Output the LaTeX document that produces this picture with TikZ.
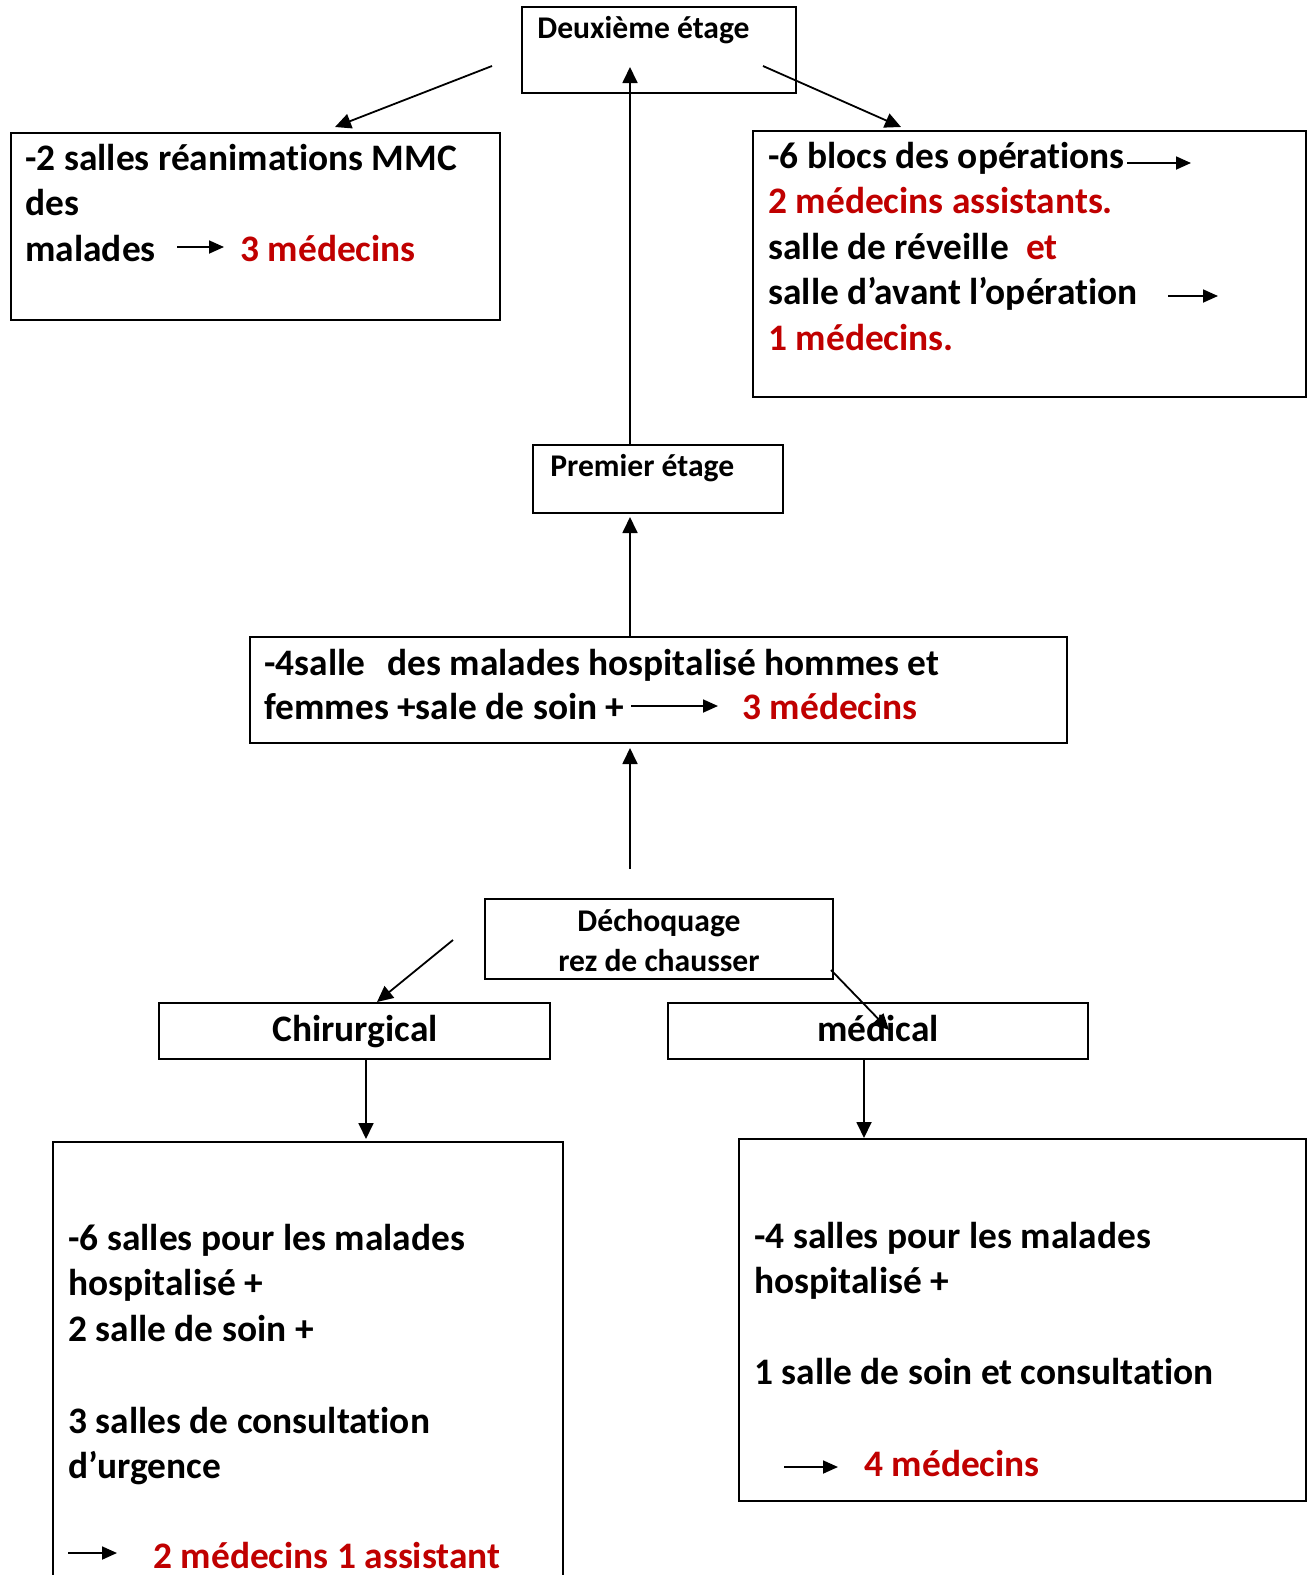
\documentclass[tikz,border=0pt]{standalone}
\usepackage{fontspec}
\setmainfont{Carlito}[RawFeature={-liga}]
\usetikzlibrary{arrows.meta,fit}
\definecolor{dred}{HTML}{C00000}
\newcommand\bigf{\fontsize{18.7}{22.6}\selectfont\bfseries}
\newcommand\smallf{\fontsize{15.8}{19}\selectfont\bfseries}
\begin{document}
\begin{tikzpicture}[x=0.5pt,y=-0.5pt,
  box/.style={draw,line width=1pt,inner sep=0pt,rectangle},
  arr/.style={line width=0.9pt,-{Triangle[length=8pt,width=7.5pt]}},
  iarr/.style={line width=0.9pt,-{Triangle[length=7.5pt,width=6.5pt]}},
  tb/.style={anchor=base west,inner sep=0pt,font=\bigf},
  ts/.style={anchor=base west,inner sep=0pt,font=\smallf},
  red/.style={text=dred}]
\useasboundingbox (0,0) rectangle (1316,1575);
\clip (0,0) rectangle (1316,1575);
\fill[white] (0,0) rectangle (1316,1575);

% boxes
\node (deux) [box, fit={(522,7) (796,93)}] {};
\node (reanim) [box, fit={(11,133) (500,320)}] {};
\node (blocs) [box, fit={(753,131) (1306,397)}] {};
\node (premier) [box, fit={(533,445) (783,513)}] {};
\node (salle4) [box, fit={(250,637) (1067,743)}] {};
\node (dech) [box, fit={(485,899) (833,979)}] {};
\node (chir) [box, fit={(159,1003) (550,1059)}] {};
\node (med) [box, fit={(668,1003) (1088,1059)}] {};
\node (chirc) [box, fit={(53,1142) (563,1620)}] {};
\node (medc) [box, fit={(739,1139) (1306,1501)}] {};

% connectors
\coordinate (d1s) at (492,66);  \coordinate (d1e) at (335,127);
\coordinate (d2s) at (763,66);  \coordinate (d2e) at (901,127);
\draw[arr] (d1s) -- (d1e);
\draw[arr] (d2s) -- (d2e);
\coordinate (v1) at (630,67);
\draw[arr] (premier.north -| v1) -- (v1);
\coordinate (v2) at (630,517);
\draw[arr] (salle4.north -| v2) -- (v2);
\coordinate (v3s) at (630,869); \coordinate (v3) at (630,748);
\draw[arr] (v3s) -- (v3);
\coordinate (c1s) at (453,940); \coordinate (c1e) at (377,1002);
\draw[arr] (c1s) -- (c1e);
\coordinate (c2s) at (831,970); \coordinate (c2e) at (889,1030);
\draw[arr] (c2s) -- (c2e);
\coordinate (h1) at (366,1139);
\draw[arr] (chir.south -| h1) -- (h1);
\coordinate (h2) at (864,1138);
\draw[arr] (med.south -| h2) -- (h2);

% texts
\node[ts] (tdeux) at (537,38) {Deuxième étage};

\node[tb] (r1) at (25,170) {-2 salles réanimations MMC};
\node[tb] (r2) at (25,215) {des};
\node[tb] (r3) at (25,261) {malades};
\draw[iarr] (177,247) -- (224,247);
\node[tb,red] (r4) at (240,261) {3 médecins};

\node[tb] (b1) at (768,168) {-6 blocs des opérations};
\draw[iarr] (1127,163) -- (1191,163);
\node[tb,red] (b2) at (768,213) {2 médecins assistants.};
\node[tb] (b3) at (768,259) {salle de réveille};
\node[tb,red] (b3b) at (1026,259) {et};
\node[tb] (b4) at (768,304) {salle d’avant l’opération};
\draw[iarr] (1168,296) -- (1218,296);
\node[tb,red] (b5) at (768,350) {1 médecins.};

\node[ts] (tprem) at (550,476) {Premier étage};

\node[tb] (s1) at (264,675) {-4salle};
\node[tb] (s1b) at (387,675) {des malades hospitalisé hommes et};
\node[tb] (s2) at (264,719) {femmes +sale de soin +};
\draw[iarr] (631,706) -- (718,706);
\node[tb,red] (s3) at (742,719) {3 médecins};

\node[ts,anchor=base] (dc1) at (659,931) {Déchoquage};
\node[ts,anchor=base] (dc2) at (659,971) {rez de chausser};

\node[tb,anchor=base] (tchir) at (355,1041) {Chirurgical};
\node[tb,anchor=base] (tmed) at (878,1041) {médical};

\node[tb] (k1) at (68,1250) {-6 salles pour les malades};
\node[tb] (k2) at (68,1295) {hospitalisé +};
\node[tb] (k3) at (68,1341) {2 salle de soin +};
\node[tb] (k4) at (68,1433) {3 salles de consultation};
\node[tb] (k5) at (68,1478) {d’urgence};
\draw[iarr] (68,1553) -- (117,1553);
\node[tb,red] (k6) at (153,1568) {2 médecins 1 assistant};

\node[tb] (m1) at (754,1248) {-4 salles pour les malades};
\node[tb] (m2) at (754,1293) {hospitalisé +};
\node[tb] (m3) at (754,1384) {1 salle de soin et consultation};
\draw[iarr] (784,1467) -- (838,1467);
\node[tb,red] (m4) at (864,1476) {4 médecins};
\end{tikzpicture}
\end{document}
